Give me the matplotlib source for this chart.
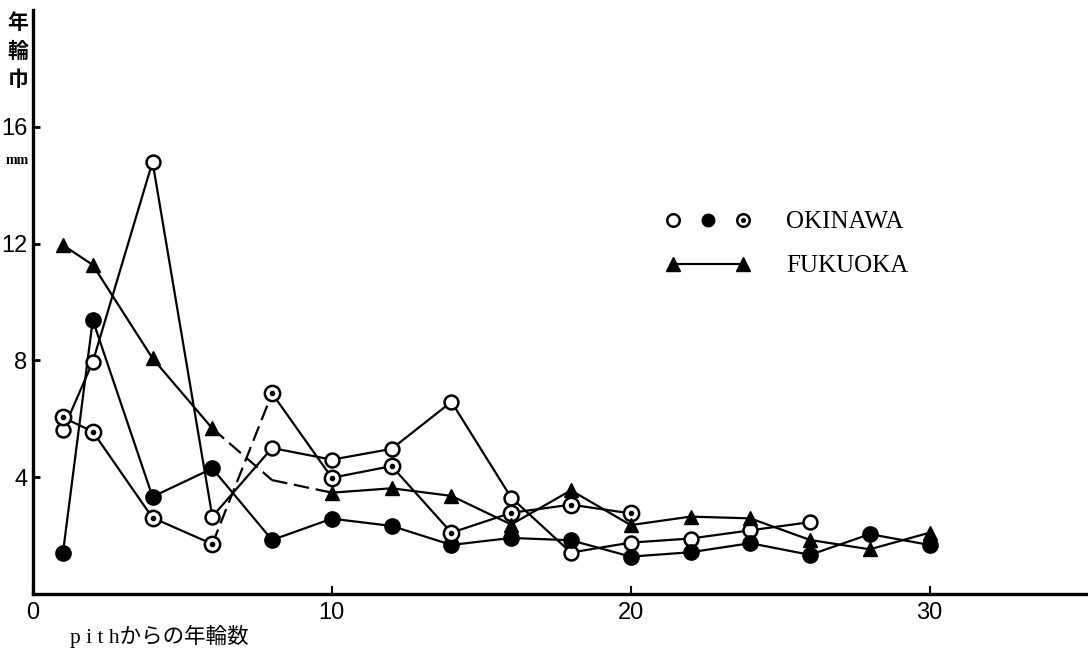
import numpy as np
import matplotlib
matplotlib.use('Agg')
import matplotlib.pyplot as plt
from matplotlib.path import Path
from matplotlib.markers import MarkerStyle
from matplotlib.lines import Line2D
from matplotlib.legend_handler import HandlerTuple, HandlerLine2D

# ---------------- data ----------------
ok_open_x = [1, 2, 4, 6, 8, 10, 12, 14, 16, 18, 20, 22, 24, 26]
ok_open_y = [5.6, 7.95, 14.8, 2.65, 5.0, 4.6, 4.97, 6.58, 3.3, 1.42, 1.76, 1.9, 2.18, 2.46]

ok_fill_x = [1, 2, 4, 6, 8, 10, 12, 14, 16, 18, 20, 22, 24, 26, 28, 30]
ok_fill_y = [1.39, 9.38, 3.33, 4.3, 1.85, 2.58, 2.33, 1.68, 1.92, 1.84, 1.28, 1.43, 1.74, 1.34, 2.05, 1.68]

ok_dot_x = [1, 2, 4, 6, 8, 10, 12, 14, 16, 18, 20]
ok_dot_y = [6.05, 5.56, 2.61, 1.71, 6.87, 3.98, 4.38, 2.1, 2.78, 3.06, 2.76]

fk_x = [1, 2, 4, 6, 8, 10, 12, 14, 16, 18, 20, 22, 24, 26, 28, 30]
fk_y = [11.95, 11.27, 8.07, 5.67, 3.9, 3.47, 3.62, 3.36, 2.38, 3.55, 2.36, 2.65, 2.59, 1.85, 1.53, 2.1]

legend_labels = ['OKINAWA', 'FUKUOKA']
y_ticks = [4, 8, 12, 16]
x_ticks = [0, 10, 20, 30]
y_title = '年\n輪\n巾'
y_unit = 'mm'
x_title = 'p i t hからの年輪数'

# dashed segments (index of segment start) and hidden markers
fk_dashed = {3, 4}
dot_dashed = {3}
fk_hidden = {4}

# ---------------- styling ----------------
NUM_FONT = ['Liberation Sans Narrow', 'Liberation Sans', 'DejaVu Sans']
SERIF = ['Liberation Serif', 'DejaVu Serif']
CJK = ['Noto Sans CJK JP', 'DejaVu Sans']
MIXED = ['Liberation Serif', 'Noto Sans CJK JP', 'DejaVu Sans']

fig = plt.figure(figsize=(10.88, 6.5), dpi=100)
ax = fig.add_axes([33 / 1088, 56 / 650, 1 - 33 / 1088, 584 / 650])
ax.set_xlim(0, 35.3)
ax.set_ylim(0, 20)

for s in ('top', 'right'):
    ax.spines[s].set_visible(False)
for s in ('left', 'bottom'):
    ax.spines[s].set_linewidth(2.4)

LW = 1.6

inner = Path.circle((0, 0), 0.2)
dot_path = Path.make_compound_path(Path.unit_circle(), inner)
dot_marker = MarkerStyle(dot_path)


def draw_series(x, y, dashed, marker_kw, hidden=()):
    for i in range(len(x) - 1):
        ls = (0, (7, 3)) if i in dashed else '-'
        ax.plot(x[i:i + 2], y[i:i + 2], color='black', lw=LW, ls=ls,
                zorder=2, solid_capstyle='butt')
    keep = [i for i in range(len(x)) if i not in hidden]
    ax.plot(x, y, ls='none', markevery=keep, zorder=3, **marker_kw)


open_kw = dict(marker='o', ms=10, mfc='white', mec='black', mew=1.8)
fill_kw = dict(marker='o', ms=11, mfc='black', mec='black', mew=1.0)
dot_kw = dict(marker=dot_marker, ms=11, mfc='white', mec='black', mew=1.8)
tri_kw = dict(marker='^', ms=10, mfc='black', mec='black', mew=1.0)

draw_series(ok_open_x, ok_open_y, set(), open_kw)
draw_series(ok_fill_x, ok_fill_y, set(), fill_kw)
draw_series(ok_dot_x, ok_dot_y, dot_dashed, dot_kw)
draw_series(fk_x, fk_y, fk_dashed, tri_kw, hidden=fk_hidden)

# ticks
ax.set_yticks(y_ticks)
ax.set_yticklabels([str(v) for v in y_ticks], family=NUM_FONT, fontsize=17)
ax.set_xticks(x_ticks)
ax.set_xticklabels([str(v) for v in x_ticks], family=NUM_FONT, fontsize=17)
ax.tick_params(axis='y', direction='in', length=5, width=2, pad=4)
ax.tick_params(axis='x', direction='in', length=6, width=1.5, pad=6)

# axis titles
fig.text(18 / 1088, 1 - 51 / 650, y_title, ha='center', va='center',
         fontsize=15, linespacing=1.45, family=CJK, weight='bold')
fig.text(17 / 1088, 1 - 161 / 650, y_unit, ha='center', va='center',
         fontsize=10, family=SERIF, weight='bold')
fig.text(159 / 1088, 1 - 636 / 650, x_title, ha='center', va='center',
         fontsize=15.5, family=MIXED)

# legend
h_open = Line2D([], [], ls='none', marker='o', ms=9, mfc='white', mec='black', mew=1.8)
h_fill = Line2D([], [], ls='none', marker='o', ms=9, mfc='black', mec='black')
h_dot = Line2D([], [], ls='none', marker=dot_marker, ms=9, mfc='white', mec='black', mew=1.8)
h_tri = Line2D([], [], ls='-', color='black', lw=1.6, marker='^', ms=10, mfc='black', mec='black')

FS = 18
fs_px = FS * 100 / 72
leg = ax.legend(handles=[(h_open, h_fill, h_dot), h_tri], labels=legend_labels,
                handler_map={tuple: HandlerTuple(ndivide=None, pad=20 / fs_px),
                             h_tri: HandlerLine2D(numpoints=2)},
                numpoints=1, frameon=False,
                prop=dict(family=SERIF, size=FS),
                handlelength=85 / fs_px, handletextpad=36 / fs_px,
                labelspacing=0.85,
                borderpad=0, borderaxespad=0, loc='upper left',
                bbox_to_anchor=(665 / 1088, 1 - 211 / 650),
                bbox_transform=fig.transFigure)

fig.savefig('out.png', dpi=100)
